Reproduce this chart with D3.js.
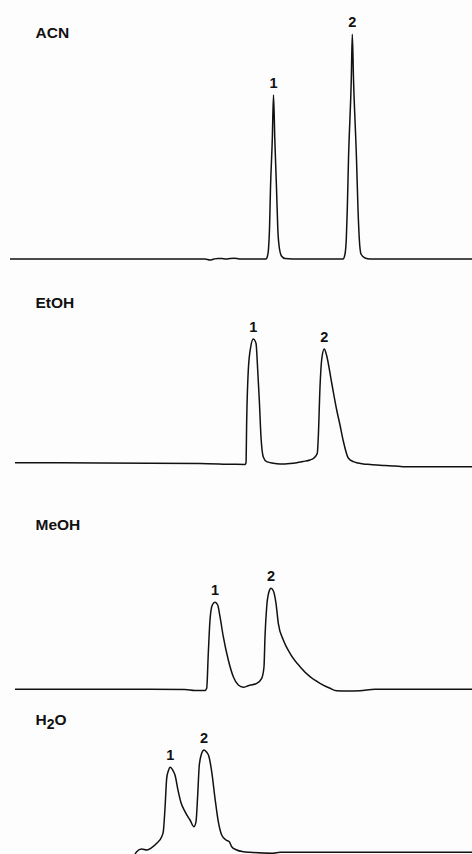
<!DOCTYPE html>
<html>
<head>
<meta charset="utf-8">
<script src="https://cdn.jsdelivr.net/npm/d3@7"></script>
<style>
  html, body { margin: 0; padding: 0; background: #fdfdfd; }
  svg { display: block; }
  text { font-family: "Liberation Sans", Arial, sans-serif; font-weight: bold; fill: #111; }
</style>
</head>
<body>
<div id="chart"></div>
<script>
// Chromatograms of the two analytes in four mobile-phase solvents.
// Retention time in minutes, detector signal in mAU above baseline.

const solvents = ["ACN", "EtOH", "MeOH", "H2O"];
const peakLabels = ["1", "2"];

const acnTime = [0, 14, 19.5, 20, 20.4, 20.8, 21.2, 21.6, 22, 22.4, 22.7, 23, 25.6, 25.75, 25.85, 25.95, 26.05, 26.23, 26.35, 26.48, 26.65, 26.78, 26.95, 27.15, 27.5, 29, 33.3, 33.5, 33.63, 33.73, 33.85, 34.13, 34.23, 34.35, 34.65, 34.8, 34.93, 35.1, 35.5, 36, 46.2];
const acnSignal = [0, 0, 0, -1, 0, 0.6, 0.4, 0, 0.5, 0.8, 0.5, 0, 0, 3, 10, 30, 71, 120, 164, 120, 71, 30, 10, 3, 0.5, 0, 0, 5, 20, 50, 100, 180, 224.7, 180, 100, 50, 20, 5, 1, 0, 0];

const etohTime = [0.5, 9, 19, 22.3, 23.5, 23.6, 23.67, 23.83, 24.07, 24.33, 24.6, 24.77, 24.93, 25.1, 25.33, 25.67, 26.33, 27, 28, 28.67, 29.3, 30, 30.4, 30.73, 30.83, 31, 31.2, 31.43, 31.65, 32.17, 32.67, 33, 33.33, 33.83, 34.33, 34.8, 35.33, 36, 36.67, 37.5, 38.5, 39.3, 46.2];
const etohSignal = [2.3, 2, 1.5, 0.7, 0.5, 2, 45, 95, 118, 126, 121.7, 95, 65, 28, 8, 3.3, 1.7, 1, 1.5, 2.3, 3.5, 5, 7, 11.7, 28, 78, 108, 116, 110, 82, 55, 40, 24, 7, 3.3, 2, 1, 0.5, 0, -0.5, -1, -1.7, -1.7];

const meohTime = [0.5, 9, 17.5, 18.5, 19.5, 19.67, 19.83, 20, 20.23, 20.5, 20.77, 21, 21.33, 21.83, 22.33, 22.83, 23.33, 23.83, 24.67, 25.17, 25.4, 25.5, 25.67, 25.9, 26.1, 26.33, 26.6, 26.83, 27.33, 28, 29, 30, 31, 32, 32.67, 33.67, 35, 36.5, 46.2];
const meohSignal = [0.7, 0.7, 0.5, -0.5, -0.5, 1.7, 36.7, 70, 85, 87.7, 85, 73.3, 53.3, 30, 13.3, 5, 2.7, 4.3, 6.7, 11.7, 23.3, 53.3, 83.3, 98.3, 101.7, 99.3, 86.7, 66.7, 50, 36.7, 23.3, 13.3, 6.7, 1.7, -0.7, -1, -0.7, 0.7, 0.7];

const waterTime = [12.5, 12.67, 13.17, 13.67, 14.17, 14.67, 15.17, 15.33, 15.5, 15.67, 15.83, 16.03, 16.27, 16.5, 16.83, 17.07, 17.5, 18, 18.4, 18.6, 18.77, 18.93, 19.17, 19.4, 19.67, 19.9, 20.17, 20.5, 20.83, 21.17, 21.6, 21.93, 22.17, 22.67, 23.33, 24, 26.3, 27, 46.2];
const waterSignal = [-1, 1.3, 4, 3, 5.3, 9.7, 16.3, 21.3, 44.7, 74.7, 82, 85.7, 83, 78, 61.3, 51.3, 41.3, 33, 26.3, 31.3, 58, 88, 99.7, 103, 100.7, 96.3, 81.3, 54.7, 31.3, 18, 13, 11.3, 6.3, 3, 1.3, 0.7, -0.3, 0.7, 0.7];

// apex retention times of peaks 1 and 2 in each solvent
const peakTimes = [[26.35, 34.23], [24.33, 31.43], [20.5, 26.1], [16.03, 19.4]];

const times = [acnTime, etohTime, meohTime, waterTime];
const signals = [acnSignal, etohSignal, meohSignal, waterSignal];

const W = 472, H = 854;

// stacked panel layout: baseline and title position of each trace
const layout = [
  { base: 259, titleY: 37.5 },
  { base: 465, titleY: 307.5 },
  { base: 690, titleY: 530 },
  { base: 853, titleY: 725 }
];

const svg = d3.select("#chart").append("svg")
  .attr("width", W).attr("height", H);

const x = d3.scaleLinear().domain([0, 46.2]).range([10, 472]);

solvents.forEach((name, i) => {
  const L = layout[i];
  const y = d3.scaleLinear().domain([0, 240]).range([L.base, L.base - 240]);
  const pts = times[i].map((t, k) => [t, signals[i][k]]);

  const line = d3.line()
    .x(d => x(d[0]))
    .y(d => y(d[1]))
    .curve(d3.curveMonotoneX);

  const g = svg.append("g").attr("class", "panel");

  g.append("path")
    .datum(pts)
    .attr("fill", "none")
    .attr("stroke", "#111")
    .attr("stroke-width", 1.5)
    .attr("stroke-linejoin", "round")
    .attr("d", line);

  // solvent title (H2O gets a subscript)
  const title = g.append("text")
    .attr("x", 35.5).attr("y", L.titleY)
    .attr("font-size", 15.5);
  if (name === "H2O") {
    title.append("tspan").text("H");
    title.append("tspan").attr("dy", 4).attr("font-size", 14).text("2");
    title.append("tspan").attr("dy", -4).text("O");
  } else {
    title.text(name);
  }

  // peak numbers above each apex
  peakTimes[i].forEach((t, j) => {
    const k = times[i].indexOf(t);
    g.append("text")
      .attr("x", x(t))
      .attr("y", y(signals[i][k]) - 7)
      .attr("text-anchor", "middle")
      .attr("font-size", 14.5)
      .text(peakLabels[j]);
  });
});
</script>
</body>
</html>
